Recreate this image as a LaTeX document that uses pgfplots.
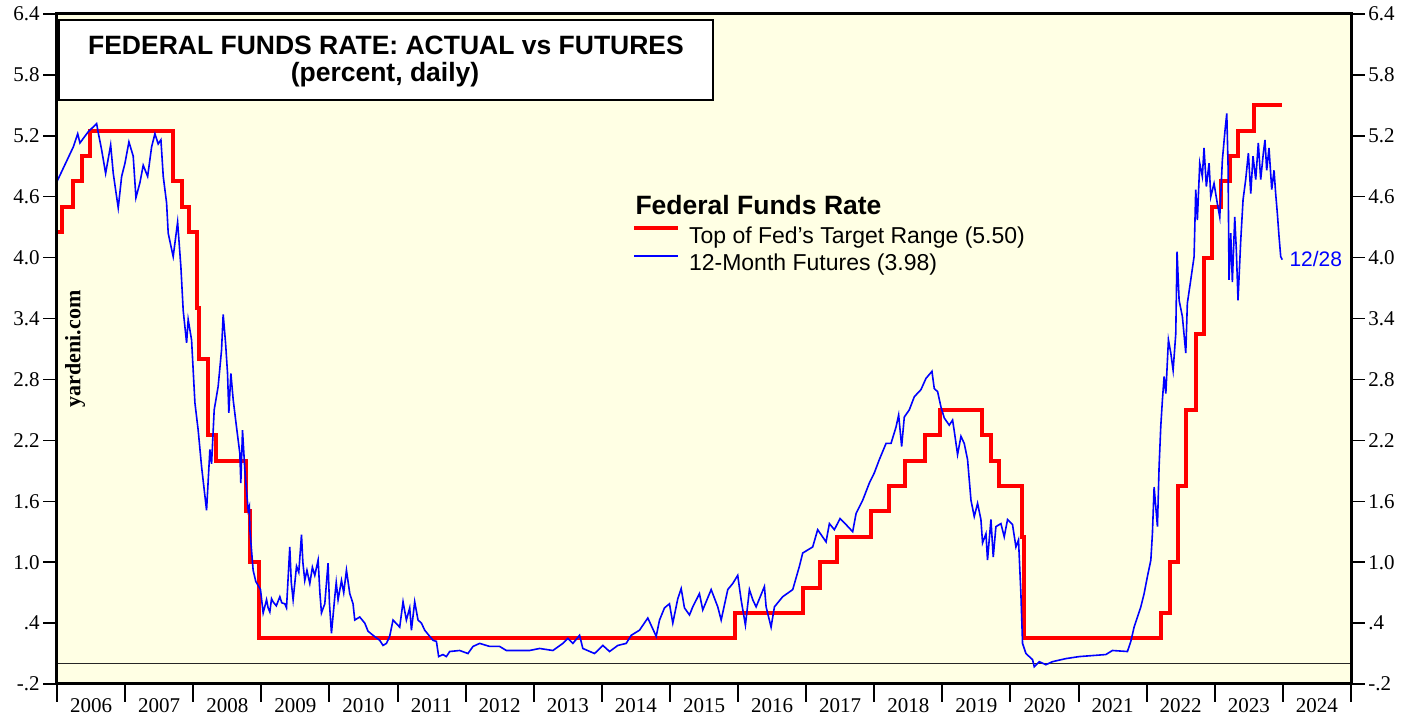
\documentclass[border=0pt]{standalone}
\usepackage{fontspec}
\setmainfont{Liberation Serif}
\newfontfamily\arial{Liberation Sans}
\usepackage{pgfplots}
\pgfplotsset{compat=1.18}
\definecolor{bgyellow}{RGB}{255,255,228}
\definecolor{fedred}{RGB}{255,0,0}
\definecolor{futblue}{RGB}{0,0,255}
\pgfplotsset{
  baseframe/.style={at={(0pt,0pt)}, anchor=south west, scale only axis,
    width=1294pt, height=670pt,
    xmin=2006, xmax=2025, ymin=-0.2, ymax=6.4,
    tick align=outside,
    /pgf/number format/assume math mode=true},
  ysideaxis/.style={baseframe, axis line style={draw=none}, xtick=\empty,
    ytick={-0.2,0.4,1.0,1.6,2.2,2.8,3.4,4.0,4.6,5.2,5.8,6.4},
    yticklabels={-.2,.4,1.0,1.6,2.2,2.8,3.4,4.0,4.6,5.2,5.8,6.4},
    major tick length=14pt,
    major tick style={line width=1.5pt, black},
    yticklabel style={font=\fontsize{21}{24}\selectfont}}
}
\begin{document}
\begin{tikzpicture}[x=1pt,y=1pt]
\useasboundingbox (-57,-35) rectangle (1362,684);
\begin{axis}[baseframe,
  axis background/.style={fill=bgyellow, draw=black, line width=3pt},
  axis line style={line width=3pt, black},
  axis on top,
  ytick=\empty,
  xtick={2006,2007,2008,2009,2010,2011,2012,2013,2014,2015,2016,2017,2018,2019,2020,2021,2022,2023,2024,2025},
  x tick label as interval,
  xticklabels={2006,2007,2008,2009,2010,2011,2012,2013,2014,2015,2016,2017,2018,2019,2020,2021,2022,2023,2024},
  xtick pos=left,
  major tick length=18pt,
  major tick style={line width=2pt, black},
  xticklabel style={font=\fontsize{21}{24}\selectfont, yshift=7pt},
  legend style={draw=none, fill=none, inner sep=0pt, outer sep=0pt,
    at={(axis description cs:0.4444,0.6831)}, anchor=north west,
    row sep=5.5pt, column sep=9pt,
    font=\arial\fontsize{23}{27}\selectfont,
    nodes={inner sep=0pt, text height=17pt, text depth=5pt}},
  legend cell align=left,
  legend image code/.code={\draw[#1] (0pt,9pt) -- (44pt,9pt);},
]
\addplot[draw=black!85, line width=1.6pt, forget plot] coordinates {(2006,0) (2025,0)};
\addplot[fedred, line width=4pt, const plot] coordinates {
(2006.00,4.25) (2006.08,4.5) (2006.24,4.75) (2006.36,5.0) (2006.49,5.25)
(2007.71,4.75) (2007.83,4.5) (2007.94,4.25) (2008.06,3.5) (2008.08,3.0)
(2008.21,2.25) (2008.33,2.0) (2008.77,1.5) (2008.83,1.0) (2008.96,0.25)
(2015.96,0.5) (2016.95,0.75) (2017.20,1.0) (2017.45,1.25) (2017.95,1.5)
(2018.22,1.75) (2018.45,2.0) (2018.74,2.25) (2018.97,2.5) (2019.58,2.25)
(2019.71,2.0) (2019.83,1.75) (2020.17,1.25) (2020.20,0.25) (2022.21,0.5)
(2022.34,1.0) (2022.46,1.75) (2022.57,2.5) (2022.72,3.25) (2022.84,4.0)
(2022.96,4.5) (2023.09,4.75) (2023.22,5.0) (2023.34,5.25) (2023.57,5.5)
(2023.99,5.5)};
\addlegendentry{Top of Fed’s Target Range (5.50)}
\addplot[futblue, line width=1.6pt] coordinates {
(2006.000,4.75) (2006.239,5.09) (2006.304,5.22) (2006.337,5.13) (2006.459,5.24)
(2006.582,5.32) (2006.606,5.23) (2006.656,5.06) (2006.714,4.83) (2006.788,5.11)
(2006.826,4.83) (2006.899,4.49) (2006.949,4.80) (2006.998,4.93) (2007.056,5.14)
(2007.119,5.00) (2007.159,4.59) (2007.218,4.74) (2007.266,4.91) (2007.331,4.80)
(2007.389,5.09) (2007.438,5.22) (2007.486,5.12) (2007.526,5.16) (2007.560,4.80)
(2007.609,4.54) (2007.633,4.24) (2007.706,4.01) (2007.771,4.35) (2007.819,3.91)
(2007.853,3.48) (2007.903,3.16) (2007.926,3.39) (2007.976,3.19) (2008.025,2.57)
(2008.073,2.30) (2008.123,1.94) (2008.196,1.51) (2008.245,2.11) (2008.270,1.97)
(2008.308,2.50) (2008.366,2.73) (2008.416,3.09) (2008.440,3.44) (2008.475,3.16)
(2008.504,2.86) (2008.523,2.47) (2008.553,2.86) (2008.587,2.60) (2008.636,2.33)
(2008.685,2.07) (2008.699,1.78) (2008.724,2.30) (2008.758,1.91) (2008.807,1.51)
(2008.825,1.55) (2008.832,1.32) (2008.880,0.92) (2008.919,0.81) (2008.988,0.73)
(2009.027,0.50) (2009.077,0.63) (2009.100,0.55) (2009.125,0.51) (2009.150,0.64)
(2009.173,0.61) (2009.220,0.57) (2009.272,0.66) (2009.300,0.60) (2009.345,0.59)
(2009.370,0.55) (2009.418,1.15) (2009.440,0.80) (2009.467,0.63) (2009.517,0.96)
(2009.550,0.90) (2009.590,1.27) (2009.610,1.00) (2009.638,0.82) (2009.670,0.92)
(2009.712,0.79) (2009.750,0.95) (2009.785,0.87) (2009.834,1.02) (2009.860,0.70)
(2009.883,0.50) (2009.932,0.59) (2009.980,0.99) (2010.000,0.60) (2010.030,0.30)
(2010.079,0.66) (2010.100,0.80) (2010.127,0.63) (2010.177,0.82) (2010.210,0.70)
(2010.250,0.92) (2010.299,0.69) (2010.347,0.59) (2010.372,0.43) (2010.445,0.46)
(2010.519,0.40) (2010.567,0.32) (2010.640,0.28) (2010.739,0.23) (2010.787,0.18)
(2010.837,0.20) (2010.885,0.27) (2010.934,0.43) (2011.032,0.36) (2011.081,0.61)
(2011.130,0.43) (2011.179,0.55) (2011.204,0.33) (2011.252,0.61) (2011.301,0.43)
(2011.351,0.40) (2011.399,0.33) (2011.472,0.27) (2011.521,0.23) (2011.571,0.22)
(2011.604,0.07) (2011.667,0.09) (2011.717,0.07) (2011.766,0.12) (2011.913,0.13)
(2012.034,0.10) (2012.108,0.17) (2012.206,0.20) (2012.353,0.17) (2012.499,0.17)
(2012.598,0.13) (2012.744,0.13) (2012.939,0.13) (2013.086,0.15) (2013.281,0.13)
(2013.428,0.20) (2013.501,0.25) (2013.575,0.20) (2013.673,0.28) (2013.721,0.15)
(2013.893,0.10) (2014.015,0.18) (2014.113,0.12) (2014.235,0.18) (2014.358,0.20)
(2014.432,0.28) (2014.553,0.33) (2014.675,0.45) (2014.798,0.27) (2014.847,0.43)
(2014.920,0.55) (2014.993,0.59) (2015.042,0.40) (2015.115,0.64) (2015.165,0.74)
(2015.213,0.55) (2015.287,0.48) (2015.335,0.56) (2015.433,0.69) (2015.482,0.53)
(2015.605,0.73) (2015.702,0.56) (2015.752,0.43) (2015.849,0.73) (2015.922,0.79)
(2015.995,0.87) (2016.045,0.63) (2016.108,0.38) (2016.167,0.73) (2016.216,0.63)
(2016.265,0.56) (2016.387,0.76) (2016.412,0.56) (2016.485,0.36) (2016.534,0.56)
(2016.656,0.66) (2016.803,0.73) (2016.901,0.96) (2016.949,1.09) (2017.096,1.15)
(2017.169,1.32) (2017.292,1.20) (2017.341,1.38) (2017.414,1.32) (2017.498,1.43)
(2017.586,1.37) (2017.683,1.30) (2017.733,1.48) (2017.830,1.61) (2017.928,1.78)
(2018.001,1.88) (2018.074,2.01) (2018.173,2.17) (2018.246,2.17) (2018.319,2.33)
(2018.358,2.45) (2018.402,2.14) (2018.441,2.43) (2018.514,2.50) (2018.588,2.63)
(2018.686,2.70) (2018.759,2.81) (2018.847,2.88) (2018.881,2.71) (2018.930,2.68)
(2018.979,2.53) (2019.028,2.42) (2019.101,2.35) (2019.150,2.40) (2019.175,2.29)
(2019.223,2.06) (2019.273,2.24) (2019.321,2.17) (2019.370,2.01) (2019.420,1.61)
(2019.468,1.45) (2019.517,1.58) (2019.566,1.42) (2019.590,1.19) (2019.640,1.28)
(2019.663,1.02) (2019.713,1.42) (2019.747,1.05) (2019.786,1.35) (2019.860,1.38)
(2019.908,1.25) (2019.957,1.42) (2020.030,1.37) (2020.080,1.15) (2020.118,1.22)
(2020.153,0.69) (2020.177,0.20) (2020.227,0.10) (2020.324,0.04) (2020.349,-0.03)
(2020.422,0.02) (2020.520,-0.01) (2020.617,0.02) (2020.813,0.05) (2021.009,0.07)
(2021.204,0.08) (2021.400,0.09) (2021.497,0.13) (2021.717,0.12) (2021.767,0.22)
(2021.815,0.36) (2021.864,0.46) (2021.914,0.56) (2021.962,0.69) (2022.011,0.86)
(2022.061,1.02) (2022.084,1.28) (2022.109,1.74) (2022.158,1.35) (2022.182,1.94)
(2022.207,2.34) (2022.231,2.60) (2022.256,2.83) (2022.281,2.66) (2022.319,3.19)
(2022.354,3.06) (2022.388,2.89) (2022.427,3.25) (2022.446,4.06) (2022.476,3.58)
(2022.524,3.42) (2022.574,3.06) (2022.597,3.55) (2022.647,3.78) (2022.696,4.01)
(2022.720,4.67) (2022.744,4.37) (2022.779,4.93) (2022.817,4.80) (2022.842,5.08)
(2022.876,4.70) (2022.916,4.93) (2022.941,4.60) (2022.989,4.73) (2023.038,4.53)
(2023.073,4.40) (2023.111,4.96) (2023.151,5.26) (2023.176,5.42) (2023.195,4.90)
(2023.209,3.78) (2023.234,4.24) (2023.258,3.76) (2023.293,4.40) (2023.316,4.08)
(2023.341,3.58) (2023.381,4.17) (2023.415,4.57) (2023.454,4.77) (2023.493,5.03)
(2023.528,4.63) (2023.561,5.00) (2023.601,4.77) (2023.639,5.13) (2023.674,4.77)
(2023.713,5.03) (2023.737,5.16) (2023.762,4.86) (2023.796,5.08) (2023.836,4.67)
(2023.870,4.86) (2023.894,4.63) (2023.918,4.44) (2023.943,4.21) (2023.968,4.01)
(2023.991,3.98)};
\addlegendentry{12-Month Futures (3.98)}
\end{axis}
\begin{axis}[ysideaxis, ytick pos=left, yticklabel pos=left]
\end{axis}
\begin{axis}[ysideaxis, ytick pos=right, yticklabel pos=right]
\end{axis}
% title box
\draw[line width=2pt, fill=white] (2.5,584) rectangle (656,664);
\node[anchor=base, font=\arial\bfseries\fontsize{26.5}{30}\selectfont] at (329,629) {FEDERAL FUNDS RATE: ACTUAL vs FUTURES};
\node[anchor=base, font=\arial\bfseries\fontsize{26.5}{30}\selectfont] at (328,602) {(percent, daily)};
\node[anchor=base west, font=\arial\bfseries\fontsize{26.5}{30}\selectfont] at (575,469) {Federal Funds Rate};
\node[anchor=base west, text=futblue, font=\arial\fontsize{21}{24}\selectfont] at (1229,417) {12/28};
\node[rotate=90, font=\bfseries\fontsize{22}{24}\selectfont] at (18,335) {yardeni.com};
\end{tikzpicture}
\end{document}
